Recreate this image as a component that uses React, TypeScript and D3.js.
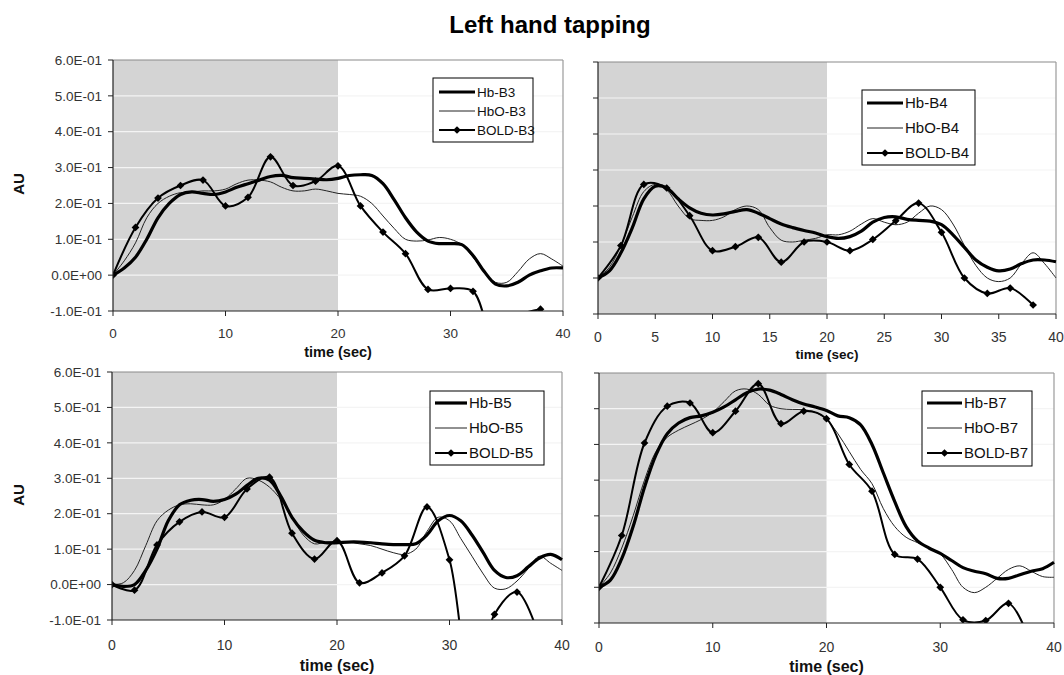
import React from 'react';
import * as d3 from 'd3';

// sampling times (sec): haemoglobin traces every second, BOLD every 2 s
const seconds = d3.range(0, 41);
const boldSeconds = d3.range(0, 39, 2);

const yTicks = [-0.1, 0, 0.1, 0.2, 0.3, 0.4, 0.5, 0.6];
const yTickLabels = ['-1.0E-01', '0.0E+00', '1.0E-01', '2.0E-01', '3.0E-01', '4.0E-01', '5.0E-01', '6.0E-01'];
const stimulusEnd = 20;

const namesB3 = ['Hb-B3', 'HbO-B3', 'BOLD-B3'];
const hbB3 = [0, 0.02, 0.05, 0.1, 0.16, 0.2, 0.225, 0.232, 0.228, 0.225, 0.232, 0.245, 0.255, 0.265, 0.275, 0.278, 0.272, 0.27, 0.268, 0.266, 0.27, 0.278, 0.28, 0.278, 0.255, 0.21, 0.16, 0.12, 0.095, 0.088, 0.088, 0.085, 0.055, 0.01, -0.025, -0.03, -0.02, 0.0, 0.012, 0.02, 0.02];
const hboB3 = [0, 0.04, 0.09, 0.16, 0.2, 0.22, 0.23, 0.232, 0.235, 0.235, 0.24, 0.255, 0.265, 0.265, 0.26, 0.245, 0.235, 0.235, 0.24, 0.235, 0.228, 0.225, 0.22, 0.2, 0.165, 0.13, 0.1, 0.095, 0.098, 0.105, 0.1, 0.085, 0.05, 0.01, -0.02, -0.02, 0.01, 0.045, 0.06, 0.045, 0.025];
const boldB3 = [0, 0.133, 0.215, 0.25, 0.265, 0.193, 0.217, 0.33, 0.25, 0.262, 0.305, 0.193, 0.12, 0.06, -0.04, -0.037, -0.045, -0.19, -0.115, -0.095];

const namesB4 = ['Hb-B4', 'HbO-B4', 'BOLD-B4'];
const hbB4 = [0, 0.02, 0.07, 0.14, 0.22, 0.255, 0.25, 0.22, 0.195, 0.18, 0.175, 0.178, 0.185, 0.19, 0.18, 0.165, 0.15, 0.14, 0.132, 0.125, 0.115, 0.11, 0.115, 0.13, 0.155, 0.168, 0.17, 0.163, 0.16, 0.158, 0.148, 0.12, 0.085, 0.05, 0.03, 0.02, 0.025, 0.04, 0.05, 0.05, 0.045];
const hboB4 = [0, 0.03, 0.09, 0.17, 0.24, 0.26, 0.245, 0.2, 0.165, 0.16, 0.16, 0.17, 0.19, 0.2, 0.19, 0.14, 0.105, 0.1, 0.105, 0.11, 0.12, 0.12, 0.13, 0.15, 0.165, 0.155, 0.148, 0.155, 0.18, 0.2, 0.19, 0.15, 0.09, 0.035, 0.0, -0.01, 0.0, 0.04, 0.07, 0.04, 0.0];
const boldB4 = [0, 0.09, 0.26, 0.25, 0.173, 0.076, 0.087, 0.113, 0.044, 0.1, 0.1, 0.076, 0.107, 0.159, 0.208, 0.127, 0.0, -0.043, -0.028, -0.075];

const namesB5 = ['Hb-B5', 'HbO-B5', 'BOLD-B5'];
const hbB5 = [0, -0.005, 0.0, 0.04, 0.1, 0.18, 0.225, 0.238, 0.24, 0.235, 0.24, 0.255, 0.28, 0.3, 0.295, 0.25, 0.19, 0.15, 0.125, 0.118, 0.118, 0.12, 0.12, 0.118, 0.115, 0.113, 0.113, 0.115, 0.14, 0.18, 0.195, 0.18, 0.14, 0.09, 0.04, 0.02, 0.025, 0.05, 0.075, 0.085, 0.07];
const hboB5 = [0, 0.005, 0.04, 0.11, 0.18, 0.21, 0.225, 0.228, 0.225, 0.225, 0.24, 0.27, 0.3, 0.295, 0.275, 0.24, 0.19, 0.14, 0.115, 0.12, 0.12, 0.12, 0.115, 0.11, 0.1, 0.09, 0.085, 0.1, 0.15, 0.19, 0.18, 0.13, 0.08, 0.03, -0.01, -0.012, 0.01, 0.045, 0.08, 0.06, 0.04];
const boldB5 = [0, -0.016, 0.112, 0.177, 0.205, 0.19, 0.27, 0.303, 0.145, 0.072, 0.124, 0.005, 0.033, 0.081, 0.219, 0.07, -0.3, -0.084, -0.021, -0.15];

const namesB7 = ['Hb-B7', 'HbO-B7', 'BOLD-B7'];
const hbB7 = [0, 0.02, 0.08, 0.17, 0.28, 0.37, 0.43, 0.46, 0.475, 0.48, 0.49, 0.505, 0.525, 0.545, 0.555, 0.552, 0.54, 0.525, 0.513, 0.505, 0.495, 0.48, 0.475, 0.455, 0.4, 0.32, 0.24, 0.17, 0.13, 0.11, 0.095, 0.075, 0.055, 0.045, 0.038, 0.025, 0.025, 0.035, 0.045, 0.052, 0.07];
const hboB7 = [0, 0.04, 0.11, 0.2, 0.3, 0.38, 0.42, 0.44, 0.455, 0.47, 0.49, 0.52, 0.55, 0.555, 0.54, 0.51, 0.5, 0.498, 0.497, 0.49, 0.47, 0.43, 0.38, 0.33, 0.29, 0.22, 0.17, 0.14, 0.125, 0.11, 0.093, 0.05, 0.0, -0.015, 0.0, 0.025, 0.05, 0.06, 0.045, 0.03, 0.028];
const boldB7 = [0, 0.145, 0.404, 0.507, 0.516, 0.433, 0.493, 0.57, 0.458, 0.493, 0.472, 0.344, 0.269, 0.092, 0.079, 0.0, -0.091, -0.093, -0.045, -0.16];

const FONT = 'Arial, "Liberation Sans", Helvetica, sans-serif';

const panels = [
  {
    id: 'b3', left: 113, right: 563, top: 60, bottom: 311,
    xTicks: [0, 10, 20, 30, 40], yLabels: true, tickDy: 27, titleY: 357, titleFs: 14.5, tickFs: 13.5,
    hb: hbB3, hbo: hboB3, bold: boldB3, names: namesB3,
    legend: { x: 433, y: 78, w: 100, h: 64, rows: [92, 111, 130], lx1: 439, lx2: 475, tx: 477, fs: 13.5 },
  },
  {
    id: 'b4', left: 598, right: 1056, top: 62, bottom: 314,
    xTicks: [0, 5, 10, 15, 20, 25, 30, 35, 40], yLabels: false, tickDy: 28, titleY: 359, titleFs: 13.5, tickFs: 14,
    hb: hbB4, hbo: hboB4, bold: boldB4, names: namesB4,
    legend: { x: 862, y: 90, w: 113, h: 75, rows: [103, 128, 153], lx1: 867, lx2: 903, tx: 905, fs: 15 },
  },
  {
    id: 'b5', left: 112, right: 562, top: 372, bottom: 620,
    xTicks: [0, 10, 20, 30, 40], yLabels: true, tickDy: 30, titleY: 671, titleFs: 16, tickFs: 14,
    hb: hbB5, hbo: hboB5, bold: boldB5, names: namesB5,
    legend: { x: 430, y: 391, w: 114, h: 74, rows: [403, 428, 453], lx1: 435, lx2: 467, tx: 469, fs: 15 },
  },
  {
    id: 'b7', left: 599, right: 1054, top: 373, bottom: 623,
    xTicks: [0, 10, 20, 30, 40], yLabels: false, tickDy: 29, titleY: 672, titleFs: 16, tickFs: 14,
    hb: hbB7, hbo: hboB7, bold: boldB7, names: namesB7,
    legend: { x: 922, y: 391, w: 110, h: 75, rows: [403, 428, 453], lx1: 927, lx2: 962, tx: 964, fs: 15 },
  },
];

const diamond = d3.symbol(d3.symbolSquare, 30)();

function Panel({ p }) {
  const x = d3.scaleLinear().domain([0, 40]).range([p.left, p.right]);
  const y = d3.scaleLinear().domain([-0.1, 0.6]).range([p.bottom, p.top]);
  const line = d3.line()
    .x(d => x(d[0]))
    .y(d => y(d[1]))
    .curve(d3.curveCatmullRom.alpha(0.5));

  const hbPts = seconds.map((t, i) => [t, p.hb[i]]);
  const hboPts = seconds.map((t, i) => [t, p.hbo[i]]);
  const boldPts = boldSeconds.map((t, i) => [t, p.bold[i]]);
  const clipId = `clip-${p.id}`;
  const lg = p.legend;

  return (
    <g>
      <defs>
        <clipPath id={clipId}>
          <rect x={p.left} y={p.top - 2} width={p.right - p.left + 1} height={p.bottom - p.top + 2} />
        </clipPath>
      </defs>
      <rect x={x(0)} y={p.top} width={x(stimulusEnd) - x(0)} height={p.bottom - p.top} fill="#d4d4d4" />
      {yTicks.slice(1, -1).map(v => (
        <line key={v} x1={p.left} x2={p.right} y1={y(v)} y2={y(v)} stroke="#f4f4f4" strokeWidth={1.2} />
      ))}
      {/* plot frame */}
      <line x1={p.left} x2={p.right} y1={p.top} y2={p.top} stroke="#8a8a8a" strokeWidth={1.2} />
      <line x1={p.right} x2={p.right} y1={p.top} y2={p.bottom} stroke="#9a9a9a" strokeWidth={1.2} />

      <g clipPath={`url(#${clipId})`}>
        <path d={line(hboPts)} fill="none" stroke="#222" strokeWidth={1} />
        <path d={line(hbPts)} fill="none" stroke="#000" strokeWidth={3.2} />
        <path d={line(boldPts)} fill="none" stroke="#000" strokeWidth={2} />
        {boldPts.map(d => (
          <path key={d[0]} d={diamond} transform={`translate(${x(d[0])},${y(d[1])}) rotate(45)`} fill="#000" />
        ))}
      </g>

      {/* axes */}
      <line x1={p.left} x2={p.left} y1={p.top} y2={p.bottom} stroke="#222" strokeWidth={1.2} />
      <line x1={p.left} x2={p.right} y1={p.bottom} y2={p.bottom} stroke="#222" strokeWidth={1.2} />
      {yTicks.map((v, i) => (
        <g key={v}>
          <line x1={p.left - 5} x2={p.left} y1={y(v)} y2={y(v)} stroke="#222" />
          {p.yLabels && (
            <text x={p.left - 11} y={y(v)} dy="0.35em" textAnchor="end" fontSize={13.5} fill="#333">
              {yTickLabels[i]}
            </text>
          )}
        </g>
      ))}
      {p.xTicks.map(t => (
        <g key={t}>
          <line x1={x(t)} x2={x(t)} y1={p.bottom} y2={p.bottom + 5} stroke="#222" />
          <text x={x(t)} y={p.bottom + p.tickDy} textAnchor="middle" fontSize={p.tickFs} fill="#333">{t}</text>
        </g>
      ))}
      <text x={x(stimulusEnd)} y={p.titleY} textAnchor="middle" fontSize={p.titleFs} fontWeight="bold" fill="#111">time (sec)</text>

      {/* legend */}
      <rect x={lg.x} y={lg.y} width={lg.w} height={lg.h} fill="#fff" stroke="#000" strokeWidth={1} />
      <line x1={lg.lx1} x2={lg.lx2} y1={lg.rows[0]} y2={lg.rows[0]} stroke="#000" strokeWidth={3.2} />
      <line x1={lg.lx1} x2={lg.lx2} y1={lg.rows[1]} y2={lg.rows[1]} stroke="#222" strokeWidth={1} />
      <line x1={lg.lx1} x2={lg.lx2} y1={lg.rows[2]} y2={lg.rows[2]} stroke="#000" strokeWidth={2} />
      <path d={diamond} transform={`translate(${(lg.lx1 + lg.lx2) / 2},${lg.rows[2]}) rotate(45)`} fill="#000" />
      {p.names.map((n, i) => (
        <text key={n} x={lg.tx} y={lg.rows[i]} dy="0.35em" fontSize={lg.fs} fill="#111">{n}</text>
      ))}
    </g>
  );
}

export default function App() {
  return (
    <svg width={1064} height={675} style={{ position: 'absolute', left: 0, top: 0, background: '#fff' }} fontFamily={FONT}>
      <rect width={1064} height={675} fill="#fff" />
      <text x={550} y={33} textAnchor="middle" fontSize={24} fontWeight="bold" fill="#000">Left hand tapping</text>
      <text transform="translate(24,184) rotate(-90)" textAnchor="middle" fontSize={15} fontWeight="bold" fill="#111">AU</text>
      <text transform="translate(24,495) rotate(-90)" textAnchor="middle" fontSize={15} fontWeight="bold" fill="#111">AU</text>
      {panels.map(p => <Panel key={p.id} p={p} />)}
    </svg>
  );
}
